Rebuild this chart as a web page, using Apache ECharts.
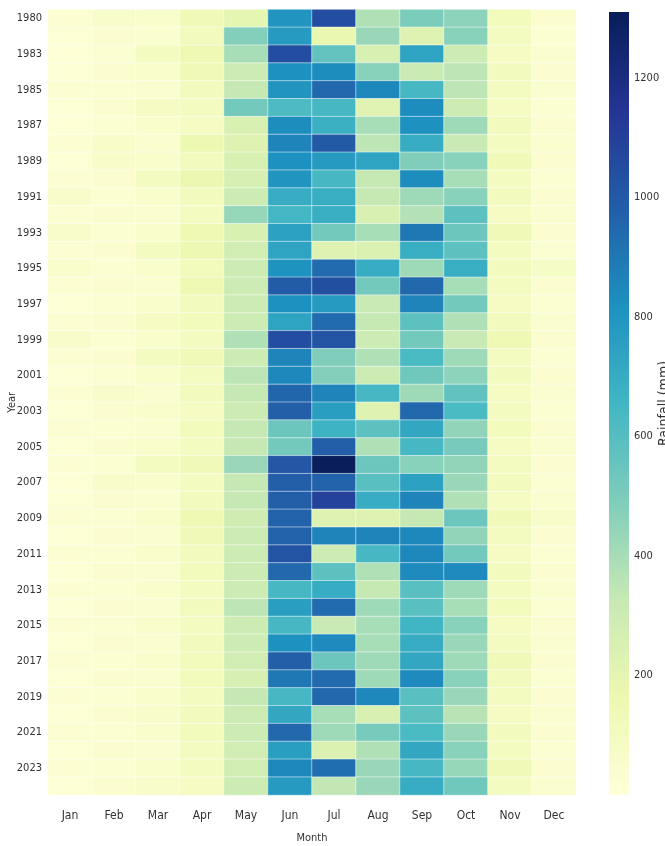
<!DOCTYPE html>
<html>
<head>
<meta charset="utf-8">
<script src="https://cdn.jsdelivr.net/npm/echarts@6/dist/echarts.min.js"></script>
<style>
html, body { margin: 0; padding: 0; background: #fff; }
#main { width: 665px; height: 846px; }
</style>
</head>
<body>
<div id="main"></div>
<script>
// rainfall heatmap, year x month (mm)
var months = ['Jan','Feb','Mar','Apr','May','Jun','Jul','Aug','Sep','Oct','Nov','Dec'];
var years = [1980, 1982];
for (var y = 1983; y <= 2024; y++) years.push(y);

var jan = [30,25,20,25,30,25,20,30,25,30,60,30,60,30,55,30,25,30,60,30,25,30,25,30,25,30,20,25,30,25,30,25,30,25,30,25,30,25,30,25,30,25,30,25];
var feb = [60,40,35,40,35,40,35,65,65,40,35,40,35,40,35,40,35,40,35,40,35,60,40,35,40,35,60,40,35,40,35,40,35,40,35,40,35,40,35,40,35,40,35,40];
var mar = [55,50,100,55,50,95,55,50,55,100,55,50,55,100,55,50,55,95,55,100,55,50,55,50,55,100,55,50,55,50,55,50,55,50,55,50,55,50,55,60,55,50,55,60];
var apr = [130,110,150,140,110,100,90,160,110,170,110,100,150,160,120,150,110,120,100,130,100,110,90,120,100,130,100,110,150,130,110,120,100,110,100,110,120,120,100,110,120,100,100,90];
var may = [200,480,400,300,330,520,250,230,250,260,300,440,250,280,300,300,300,300,380,300,350,330,300,330,330,430,330,330,290,300,300,300,300,350,300,300,280,260,330,300,300,280,280,300];
var jun = [800,780,1050,820,800,620,830,860,820,800,700,650,750,740,810,990,820,740,1050,860,850,960,980,540,520,1010,980,980,970,970,1020,950,640,760,640,820,980,900,640,720,950,760,850,780];
var jul = [1050,180,560,830,950,640,680,1000,780,640,690,690,520,230,940,1040,780,940,1020,490,480,860,760,670,980,1305,970,1090,230,860,300,580,700,940,320,840,540,940,950,400,420,240,930,340];
var aug = [380,430,250,470,850,220,400,350,740,330,330,250,400,240,700,520,320,330,300,380,300,640,230,580,380,540,590,700,230,860,640,380,330,420,400,400,420,420,850,250,510,380,430,430];
var sep = [500,230,740,310,640,830,820,700,490,830,420,370,900,690,420,950,860,580,520,630,530,420,950,720,640,470,750,860,330,850,850,840,590,590,660,700,720,840,590,580,630,720,640,700];
var oct = [460,470,300,350,350,300,420,320,470,400,470,580,540,580,690,400,520,380,320,420,460,570,630,450,510,450,430,380,540,450,520,840,420,400,470,430,420,470,430,360,430,470,440,530];
var nov = [120,100,90,110,100,90,110,100,130,100,110,90,140,100,110,100,90,110,150,100,110,90,100,120,90,100,110,90,130,100,90,110,100,120,90,100,130,110,100,90,110,100,140,100];
var dec = [40,35,50,40,45,35,40,50,40,35,40,45,40,35,80,40,35,45,40,35,40,45,35,40,45,40,35,45,60,40,35,40,45,35,40,45,40,35,40,45,40,35,40,45];

var monthly = [jan, feb, mar, apr, may, jun, jul, aug, sep, oct, nov, dec];
var cbTicks = [200, 400, 600, 800, 1000, 1200];
var cbMax = 1310;

// YlGnBu
var palette = ['#ffffd9','#edf8b1','#c7e9b4','#7fcdbb','#41b6c4','#1d91c0','#225ea8','#253494','#081d58'];

var data = [];
for (var m = 0; m < monthly.length; m++) {
    for (var i = 0; i < years.length; i++) {
        data.push([m, i, monthly[m][i]]);
    }
}

var stops = palette.map(function (c, k) {
    return { offset: k / (palette.length - 1), color: c };
});

var lbl = { fontFamily: 'DejaVu Sans Condensed, sans-serif', fontSize: 11, color: '#333' };

var myChart = echarts.init(document.getElementById('main'));

var option = {
    animation: false,
    grid: [
        { left: 48, right: 89, top: 9.5, bottom: 51, outerBoundsMode: 'none' },
        { left: 609, width: 20, top: 12, bottom: 51, outerBoundsMode: 'none' }
    ],
    xAxis: [
        {
            type: 'category',
            data: months,
            gridIndex: 0,
            axisLine: { show: false },
            axisTick: { alignWithLabel: true, length: 4, lineStyle: { color: '#333' } },
            axisLabel: Object.assign({}, lbl, { margin: 15, fontSize: 12 }),
            name: 'Month',
            nameLocation: 'middle',
            nameGap: 38,
            nameMoveOverlap: false,
            nameTextStyle: lbl
        },
        { type: 'value', gridIndex: 1, show: false, min: 0, max: 1 }
    ],
    yAxis: [
        {
            type: 'category',
            data: years,
            gridIndex: 0,
            inverse: true,
            axisLine: { show: false },
            axisTick: { alignWithLabel: true, interval: 1, length: 4, lineStyle: { color: '#333' } },
            axisLabel: Object.assign({ interval: 1, margin: 6 }, lbl),
            name: 'Year',
            nameLocation: 'middle',
            nameGap: 30,
            nameMoveOverlap: false,
            nameRotate: 90,
            nameTextStyle: lbl
        },
        {
            type: 'value',
            gridIndex: 1,
            position: 'right',
            min: 0,
            max: cbMax,
            axisLine: { show: false },
            splitLine: { show: false },
            axisTick: { show: true, length: 4, customValues: cbTicks, lineStyle: { color: '#333' } },
            axisLabel: Object.assign({
                margin: 5,
                customValues: cbTicks,
                formatter: function (v) { return String(v); }
            }, lbl),
            name: 'Rainfall (mm)',
            nameLocation: 'middle',
            nameGap: 28,
            nameMoveOverlap: false,
            nameRotate: 90,
            nameTextStyle: { fontFamily: 'DejaVu Sans Condensed, sans-serif', fontSize: 14, color: '#333' }
        }
    ],
    visualMap: {
        type: 'continuous',
        show: false,
        min: 0,
        max: cbMax,
        seriesIndex: 0,
        inRange: { color: palette }
    },
    series: [
        {
            type: 'heatmap',
            xAxisIndex: 0,
            yAxisIndex: 0,
            data: data,
            itemStyle: { borderColor: '#ffffff', borderWidth: 0.5 },
            emphasis: { disabled: true }
        },
        {
            // colour bar
            type: 'custom',
            xAxisIndex: 1,
            yAxisIndex: 1,
            data: [[0, 0]],
            silent: true,
            renderItem: function (params, api) {
                var p0 = api.coord([0, cbMax]);
                var p1 = api.coord([1, 0]);
                return {
                    type: 'rect',
                    shape: { x: p0[0], y: p0[1], width: p1[0] - p0[0], height: p1[1] - p0[1] },
                    style: { fill: new echarts.graphic.LinearGradient(0, 1, 0, 0, stops) }
                };
            }
        }
    ]
};

myChart.setOption(option);
</script>
</body>
</html>
